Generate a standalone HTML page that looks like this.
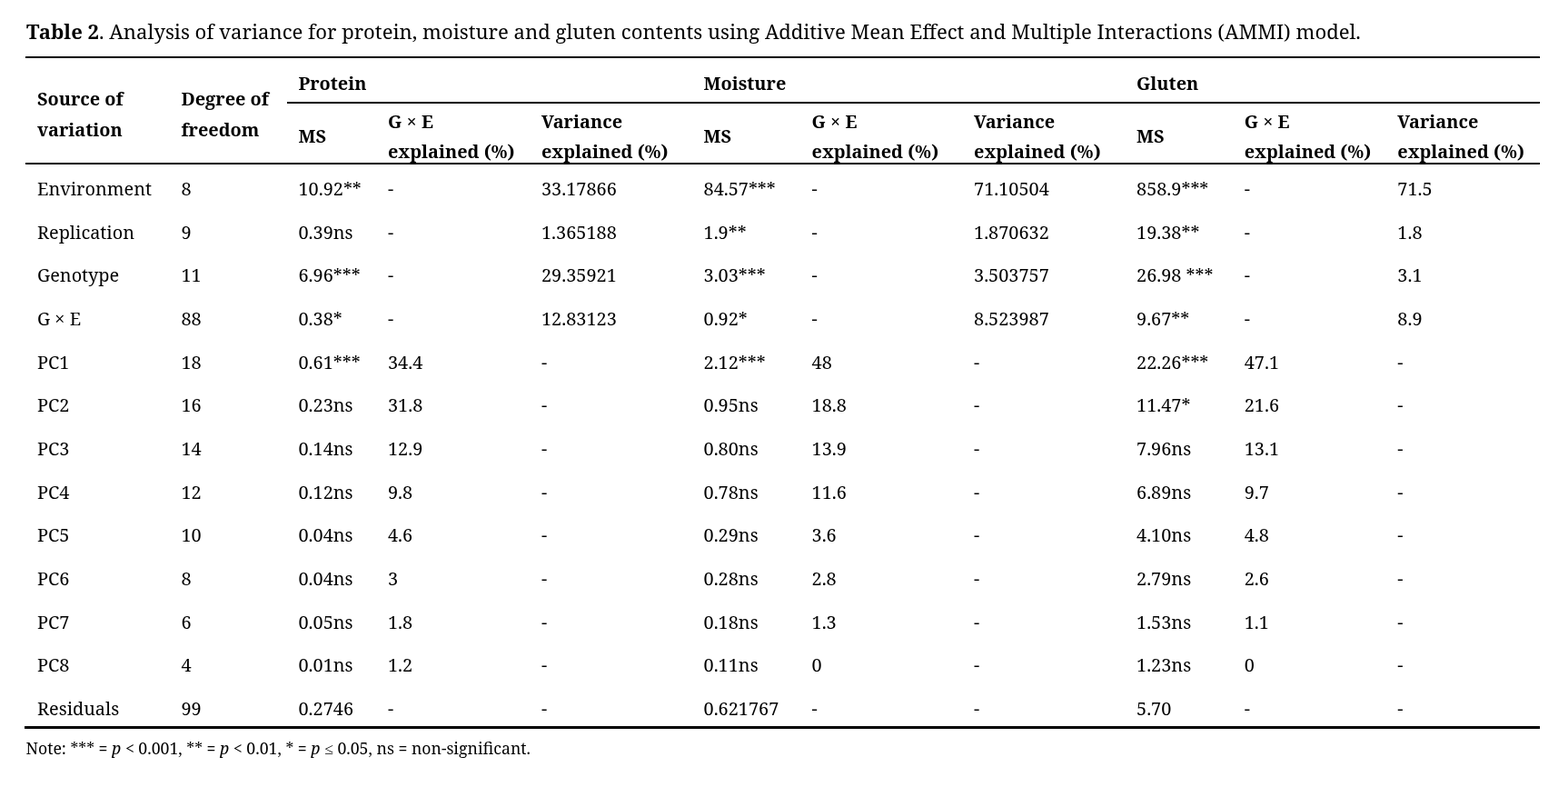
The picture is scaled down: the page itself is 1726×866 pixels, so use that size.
<!DOCTYPE html>
<html lang="en">
<head>
<meta charset="utf-8">
<title>Table 2. Analysis of variance (AMMI model)</title>
<style>
html,body{margin:0;padding:0;background:#fff;}
body{width:1726px;height:866px;overflow:hidden;position:relative;color:#000;
 font-family:"Noto Serif","Noto Serif CJK SC","Noto Serif CJK JP","Noto Serif CJK TC","Noto Serif CJK KR","DejaVu Serif","Liberation Serif",serif;font-size:20px;font-weight:400;}
.x{font-family:"Noto Serif","Liberation Serif","DejaVu Serif",serif;}
.le{font-family:"Liberation Serif","DejaVu Serif",serif;}
.cap{position:absolute;left:calc(29px + clamp(-0.425px, (0.53em - 1ex) * -1.5024, 0px));top:19px;margin:0;font-size:22.1px;line-height:30px;white-space:nowrap;letter-spacing:calc(0px + clamp(-0.22px, (0.53em - 1ex) * -0.7777, 0px));font-weight:400;-webkit-text-stroke:calc(0px + clamp(0px, (0.53em - 1ex) * 0.905, 0.256px)) #000;}
.cap b{font-weight:700;letter-spacing:calc(0px + clamp(-0.15px, (0.53em - 1ex) * -0.5303, 0px));-webkit-text-stroke:calc(0px + clamp(0px, (0.53em - 1ex) * 0.9545, 0.27px)) #000;}
.rule{position:absolute;background:#000;}
table{position:absolute;left:28px;top:64px;width:1667px;border-collapse:collapse;border-spacing:0;table-layout:fixed;font-size:calc(19.89px + clamp(0px, (0.53em - 1ex) * 0.1953, 0.05px));}
td,th{padding:0 0 0 13px;text-align:left;vertical-align:middle;white-space:nowrap;overflow:visible;border:0;}
td{height:47.67px;line-height:30px;letter-spacing:calc(0px + clamp(-0.3px, (0.53em - 1ex) * -1.1754, 0px));font-weight:400;-webkit-text-stroke:calc(0px + clamp(0px, (0.53em - 1ex) * 1.003, 0.256px)) #000;}
td:first-child{-webkit-text-stroke:calc(0px + clamp(0px, (0.53em - 1ex) * 0.9403, 0.24px)) #000;}
td span,th span{position:relative;display:inline-block;}
td span span,th span span{position:static;display:inline;}
td span{top:calc(3.3px + clamp(-1px, (0.53em - 1ex) * -3.918, 0px));}
th{font-weight:700;line-height:32.67px;letter-spacing:calc(0px + clamp(0px, (0.53em - 1ex) * 0.333, 0.085px));-webkit-text-stroke:calc(0px + clamp(0px, (0.53em - 1ex) * 1.0579, 0.27px)) #000;}
tr.r1 th{height:50px;}
tr.r1 th span{top:calc(3.1px + clamp(-0.5px, (0.53em - 1ex) * -1.959, 0px));}
tr.r1 th.sp{line-height:33.6px;}
tr.r1 th.sp span{top:calc(3.1px + clamp(-0.9px, (0.53em - 1ex) * -3.5262, 0px));}
tr.r2 th{height:67px;}
tr.r2 th span{top:calc(3.1px + clamp(-0.85px, (0.53em - 1ex) * -3.3303, 0px));}
.note{position:absolute;left:calc(28.5px + clamp(0px, (0.53em - 1ex) * 1.6524, 0.375px));top:811px;margin:0;font-size:calc(17.68px + clamp(0px, (0.53em - 1ex) * 0.1953, 0.05px));line-height:24px;white-space:nowrap;letter-spacing:calc(0px + clamp(-0.23px, (0.53em - 1ex) * -1.0135, 0px));-webkit-text-stroke:calc(0px + clamp(0px, (0.53em - 1ex) * 1.128, 0.256px)) #000;}
</style>
</head>
<body>
<h1 class="cap"><b>Table 2</b>. Analysis of variance for protein, moisture and gluten contents using Additive Mean Effect and Multiple Interactions (AMMI) model.</h1>
<div class="rule" style="left:28px;top:62px;width:1667px;height:2px"></div>
<div class="rule" style="left:316px;top:112px;width:1379px;height:2px"></div>
<div class="rule" style="left:28px;top:179px;width:1667px;height:2px"></div>
<div class="rule" style="left:27px;top:799px;width:1668px;height:3px"></div>
<table>
<colgroup><col style="width:158.5px"><col style="width:129.0px"><col style="width:98.5px"><col style="width:169px"><col style="width:178.5px"><col style="width:119.0px"><col style="width:178.5px"><col style="width:179px"><col style="width:118.7px"><col style="width:168.6px"><col style="width:169.7px"></colgroup>
<thead>
<tr class="r1"><th class="sp" rowspan="2"><span>Source of<br>variation</span></th><th class="sp" rowspan="2"><span>Degree of<br>freedom</span></th><th colspan="3"><span>Protein</span></th><th colspan="3"><span>Moisture</span></th><th colspan="3"><span>Gluten</span></th></tr>
<tr class="r2"><th><span>MS</span></th><th><span>G <span class="x">×</span> E<br>explained (%)</span></th><th><span>Variance<br>explained (%)</span></th><th><span>MS</span></th><th><span>G <span class="x">×</span> E<br>explained (%)</span></th><th><span>Variance<br>explained (%)</span></th><th><span>MS</span></th><th><span>G <span class="x">×</span> E<br>explained (%)</span></th><th><span>Variance<br>explained (%)</span></th></tr>
</thead>
<tbody>
<tr><td><span>Environment</span></td><td><span>8</span></td><td><span>10.92**</span></td><td><span>-</span></td><td><span>33.17866</span></td><td><span>84.57***</span></td><td><span>-</span></td><td><span>71.10504</span></td><td><span>858.9***</span></td><td><span>-</span></td><td><span>71.5</span></td></tr>
<tr><td><span>Replication</span></td><td><span>9</span></td><td><span>0.39ns</span></td><td><span>-</span></td><td><span>1.365188</span></td><td><span>1.9**</span></td><td><span>-</span></td><td><span>1.870632</span></td><td><span>19.38**</span></td><td><span>-</span></td><td><span>1.8</span></td></tr>
<tr><td><span>Genotype</span></td><td><span>11</span></td><td><span>6.96***</span></td><td><span>-</span></td><td><span>29.35921</span></td><td><span>3.03***</span></td><td><span>-</span></td><td><span>3.503757</span></td><td><span>26.98 ***</span></td><td><span>-</span></td><td><span>3.1</span></td></tr>
<tr><td><span>G <span class="x">×</span> E</span></td><td><span>88</span></td><td><span>0.38*</span></td><td><span>-</span></td><td><span>12.83123</span></td><td><span>0.92*</span></td><td><span>-</span></td><td><span>8.523987</span></td><td><span>9.67**</span></td><td><span>-</span></td><td><span>8.9</span></td></tr>
<tr><td><span>PC1</span></td><td><span>18</span></td><td><span>0.61***</span></td><td><span>34.4</span></td><td><span>-</span></td><td><span>2.12***</span></td><td><span>48</span></td><td><span>-</span></td><td><span>22.26***</span></td><td><span>47.1</span></td><td><span>-</span></td></tr>
<tr><td><span>PC2</span></td><td><span>16</span></td><td><span>0.23ns</span></td><td><span>31.8</span></td><td><span>-</span></td><td><span>0.95ns</span></td><td><span>18.8</span></td><td><span>-</span></td><td><span>11.47*</span></td><td><span>21.6</span></td><td><span>-</span></td></tr>
<tr><td><span>PC3</span></td><td><span>14</span></td><td><span>0.14ns</span></td><td><span>12.9</span></td><td><span>-</span></td><td><span>0.80ns</span></td><td><span>13.9</span></td><td><span>-</span></td><td><span>7.96ns</span></td><td><span>13.1</span></td><td><span>-</span></td></tr>
<tr><td><span>PC4</span></td><td><span>12</span></td><td><span>0.12ns</span></td><td><span>9.8</span></td><td><span>-</span></td><td><span>0.78ns</span></td><td><span>11.6</span></td><td><span>-</span></td><td><span>6.89ns</span></td><td><span>9.7</span></td><td><span>-</span></td></tr>
<tr><td><span>PC5</span></td><td><span>10</span></td><td><span>0.04ns</span></td><td><span>4.6</span></td><td><span>-</span></td><td><span>0.29ns</span></td><td><span>3.6</span></td><td><span>-</span></td><td><span>4.10ns</span></td><td><span>4.8</span></td><td><span>-</span></td></tr>
<tr><td><span>PC6</span></td><td><span>8</span></td><td><span>0.04ns</span></td><td><span>3</span></td><td><span>-</span></td><td><span>0.28ns</span></td><td><span>2.8</span></td><td><span>-</span></td><td><span>2.79ns</span></td><td><span>2.6</span></td><td><span>-</span></td></tr>
<tr><td><span>PC7</span></td><td><span>6</span></td><td><span>0.05ns</span></td><td><span>1.8</span></td><td><span>-</span></td><td><span>0.18ns</span></td><td><span>1.3</span></td><td><span>-</span></td><td><span>1.53ns</span></td><td><span>1.1</span></td><td><span>-</span></td></tr>
<tr><td><span>PC8</span></td><td><span>4</span></td><td><span>0.01ns</span></td><td><span>1.2</span></td><td><span>-</span></td><td><span>0.11ns</span></td><td><span>0</span></td><td><span>-</span></td><td><span>1.23ns</span></td><td><span>0</span></td><td><span>-</span></td></tr>
<tr><td><span>Residuals</span></td><td><span>99</span></td><td><span>0.2746</span></td><td><span>-</span></td><td><span>-</span></td><td><span>0.621767</span></td><td><span>-</span></td><td><span>-</span></td><td><span>5.70</span></td><td><span>-</span></td><td><span>-</span></td></tr>
</tbody>
</table>
<p class="note">Note: *** = <i>p</i> &lt; 0.001, ** = <i>p</i> &lt; 0.01, * = <i>p</i> <span class="le">≤</span> 0.05, ns = non-significant.</p>
</body>
</html>
